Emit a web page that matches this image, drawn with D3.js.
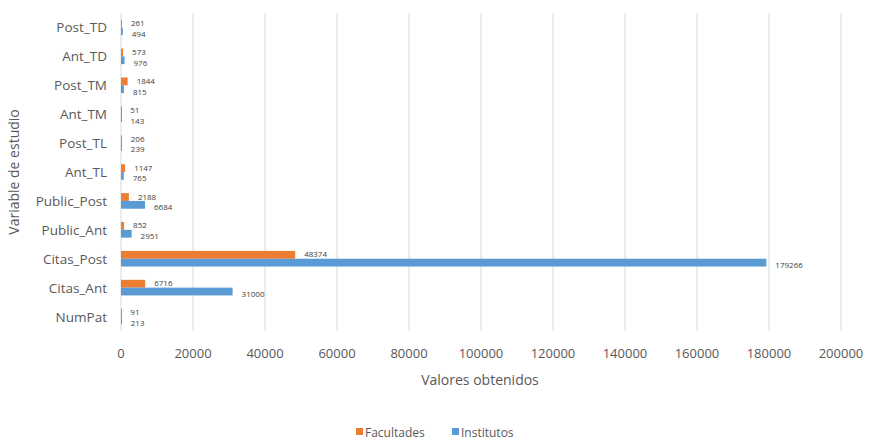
<!DOCTYPE html>
<html>
<head>
<meta charset="utf-8">
<script src="https://cdn.jsdelivr.net/npm/d3@7"></script>
<style>
  body { margin: 0; background: #fff; }
  text { font-family: "Open Sans", sans-serif; fill: #595959; }
</style>
</head>
<body>
<svg id="chart" width="870" height="441"></svg>
<script>
// categories top to bottom, as in the picture
const categories = ["Post_TD", "Ant_TD", "Post_TM", "Ant_TM", "Post_TL", "Ant_TL",
  "Public_Post", "Public_Ant", "Citas_Post", "Citas_Ant", "NumPat"];
const facultades = [261, 573, 1844, 51, 206, 1147, 2188, 852, 48374, 6716, 91];
const institutos = [494, 976, 815, 143, 239, 765, 6684, 2951, 179266, 31000, 213];
const xTicks = [0, 20000, 40000, 60000, 80000, 100000, 120000, 140000, 160000, 180000, 200000];
const seriesNames = ["Facultades", "Institutos"];
const colors = ["#ED7D31", "#5B9BD5"];

const svg = d3.select("#chart");
const margin = { top: 13, left: 121, right: 29, bottom: 110 };
const width = 870 - margin.left - margin.right;
const height = 441 - margin.top - margin.bottom;

const x = d3.scaleLinear().domain([0, 200000]).range([0, width]);
const y = d3.scaleBand().domain(categories).range([0, height]).paddingInner(0.46).paddingOuter(0.23);
const ySub = d3.scaleBand().domain(seriesNames).range([0, y.bandwidth()]);

const g = svg.append("g").attr("transform", `translate(${margin.left},${margin.top})`);

// vertical gridlines
g.selectAll(".grid").data(xTicks).enter().append("line")
  .attr("x1", d => x(d)).attr("x2", d => x(d))
  .attr("y1", 0).attr("y2", height)
  .style("stroke", "#d9d9d9").style("stroke-width", 1);

// x tick labels
g.selectAll(".xt").data(xTicks).enter().append("text")
  .attr("x", d => x(d)).attr("y", height + 27)
  .attr("text-anchor", "middle")
  .style("font-size", "13px")
  .text(d => d);

// category labels
g.selectAll(".yt").data(categories).enter().append("text")
  .attr("x", -14).attr("y", d => y(d) + y.bandwidth() / 2)
  .attr("text-anchor", "end").attr("dominant-baseline", "central")
  .style("font-size", "13.5px")
  .text(d => d);

const rows = categories.map((c, i) => ({ cat: c, vals: [facultades[i], institutos[i]] }));

const row = g.selectAll(".row").data(rows).enter().append("g")
  .attr("transform", d => `translate(0,${y(d.cat)})`);

row.selectAll("rect").data(d => d.vals.map((v, j) => ({ v, s: seriesNames[j], j }))).enter().append("rect")
  .attr("x", 0)
  .attr("y", d => ySub(d.s))
  .attr("width", d => Math.max(1, x(d.v)))
  .attr("height", ySub.bandwidth())
  .style("fill", d => colors[d.j]);

// data labels, tight to the bars
row.selectAll(".lbl").data(d => d.vals.map((v, j) => ({ v, s: seriesNames[j], j }))).enter().append("text")
  .attr("x", d => x(d.v) + 9)
  .attr("y", d => ySub(d.s) + ySub.bandwidth() / 2 + (d.j === 0 ? -1 : 2))
  .attr("dominant-baseline", "central")
  .style("font-size", "8px")
  .style("fill", "#404040")
  .text(d => d.v);

// axis titles
svg.append("text")
  .attr("x", margin.left + width / 2 - 1).attr("y", 385)
  .attr("text-anchor", "middle")
  .style("font-size", "14px")
  .text("Valores obtenidos");

svg.append("text")
  .attr("transform", `translate(19,${margin.top + height / 2}) rotate(-90)`)
  .attr("text-anchor", "middle")
  .style("font-size", "14px")
  .text("Variable de estudio");

// legend
const legend = svg.append("g").attr("transform", "translate(356,432)");
const items = legend.selectAll("g").data(seriesNames).enter().append("g")
  .attr("transform", (d, i) => `translate(${i * 96},0)`);
items.append("rect").attr("x", 0).attr("y", -4).attr("width", 7).attr("height", 7)
  .style("fill", (d, i) => colors[i]);
items.append("text").attr("x", 9).attr("y", 0)
  .attr("dominant-baseline", "central")
  .style("font-size", "12px")
  .text(d => d);
</script>
</body>
</html>
